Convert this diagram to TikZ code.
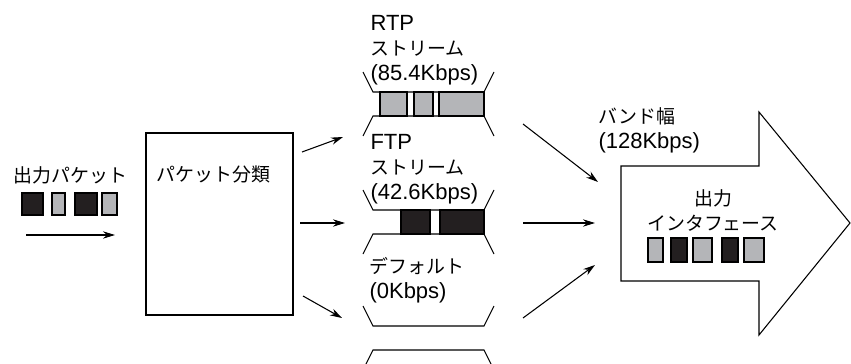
\documentclass[tikz,border=0pt]{standalone}
\usepackage{fontspec}
\setmainfont{Liberation Sans}
\newfontfamily\jp[Scale=0.86]{Noto Sans CJK JP}
\usetikzlibrary{arrows.meta}
\definecolor{cellgray}{RGB}{180,181,184}
\definecolor{cellblack}{RGB}{35,31,32}
\tikzset{
  cell/.style={draw=black, line width=0.8pt},
  lbl/.style={inner sep=0pt, align=left, font=\fontsize{16.5}{18.75}\selectfont},
  flow/.style={->, >={Stealth[length=9pt,width=5.5pt]}, line width=0.8pt}
}
\begin{document}
\begin{tikzpicture}[x=0.75pt, y=-0.75pt, line width=0.8pt]
  \useasboundingbox (0,0) rectangle (851,364);
  \clip (0,0) rectangle (851,364);

  % incoming packets
  \node[lbl, anchor=west] (inlbl) at (13,175) {\jp 出力パケット};
  \foreach \a/\b/\c in {22/43/cellblack, 52/65/cellgray, 75/97/cellblack, 102/117/cellgray}
    \draw[cell, fill=\c] (\a,193) rectangle (\b,215);
  \coordinate (in-s) at (26,235);
  \coordinate (in-e) at (115,235);
  \draw[flow] (in-s) -- (in-e);

  % classifier
  \draw (146,133) rectangle (293,315);
  \node[lbl, anchor=west] (cls) at (156,174) {\jp パケット分類};

  % queues
  \foreach \yt in {92,210,326} {
    \draw (363,\yt-20) -- (373,\yt) -- (484,\yt) -- (494,\yt-20);
    \draw (363,\yt+44) -- (373,\yt+24) -- (484,\yt+24) -- (494,\yt+44);
  }
  \foreach \a/\b in {380/407, 414/433, 439/484}
    \draw[cell, fill=cellgray] (\a,92) rectangle (\b,116);
  \foreach \a/\b in {401/430, 440/484}
    \draw[cell, fill=cellblack] (\a,210) rectangle (\b,234);

  \node[lbl, anchor=base west] (rtp) at (370,80) {RTP\\{\jp ストリーム}\\(85.4Kbps)};
  \node[lbl, anchor=base west] (ftp) at (370,199) {FTP\\{\jp ストリーム}\\(42.6Kbps)};
  \node[lbl, anchor=base west] (dft) at (369,298) {{\jp デフォルト}\\(0Kbps)};

  % classifier to queues
  \coordinate (c1s) at (302,152); \coordinate (c1e) at (343,137);
  \coordinate (c2s) at (300,223); \coordinate (c2e) at (345,223);
  \coordinate (c3s) at (303,296); \coordinate (c3e) at (342,318);
  \draw[flow] (c1s) -- (c1e);
  \draw[flow] (c2s) -- (c2e);
  \draw[flow] (c3s) -- (c3e);

  % queues to interface
  \coordinate (q1s) at (523,124); \coordinate (q1e) at (598,182);
  \coordinate (q2s) at (523,223); \coordinate (q2e) at (595,223);
  \coordinate (q3s) at (523,318); \coordinate (q3e) at (595,265);
  \draw[flow] (q1s) -- (q1e);
  \draw[flow] (q2s) -- (q2e);
  \draw[flow] (q3s) -- (q3e);

  % output interface
  \draw (621,166) -- (759,166) -- (759,112) -- (850,223) -- (759,335)
    -- (759,281) -- (621,281) -- cycle;
  \node[lbl, anchor=base west] (bw) at (598,148) {{\jp バンド幅}\\(128Kbps)};
  \node[lbl, anchor=base, align=center] (out) at (713,230) {{\jp 出力}\\{\jp インタフェース}};
  \foreach \a/\b/\c in {648/663/cellgray, 671/687/cellblack, 693/712/cellgray, 722/738/cellblack, 744/764/cellgray}
    \draw[cell, fill=\c] (\a,238) rectangle (\b,262);
\end{tikzpicture}
\end{document}
